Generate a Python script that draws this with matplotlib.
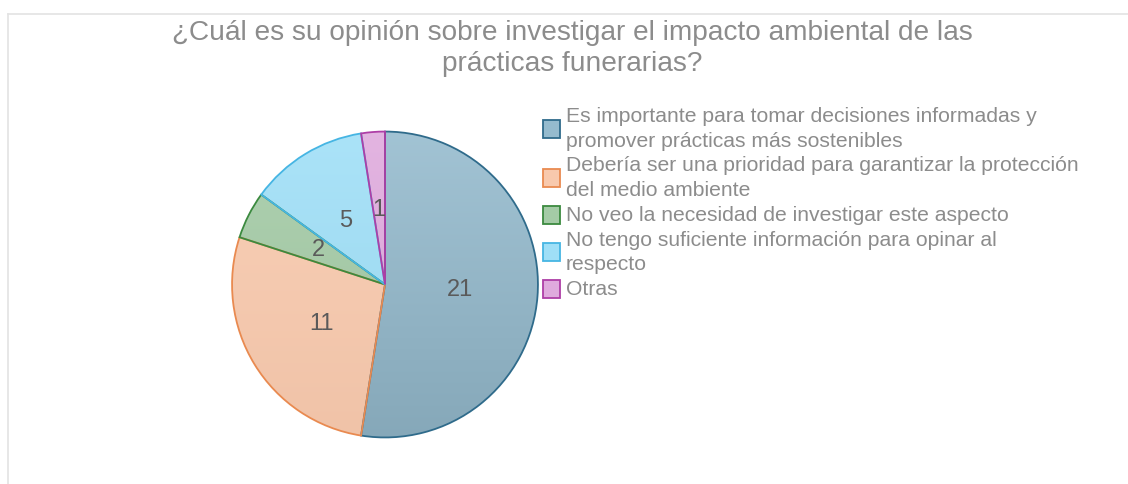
import numpy as np
import matplotlib
matplotlib.use("Agg")
from matplotlib import pyplot as plt
from matplotlib.colors import LinearSegmentedColormap, to_rgb
from matplotlib.patches import Rectangle
from matplotlib.lines import Line2D

plt.rcParams["font.family"] = ["Liberation Sans", "DejaVu Sans"]

title = "¿Cuál es su opinión sobre investigar el impacto ambiental de las\nprácticas funerarias?"
labels = [
    "Es importante para tomar decisiones informadas y\npromover prácticas más sostenibles",
    "Debería ser una prioridad para garantizar la protección\ndel medio ambiente",
    "No veo la necesidad de investigar este aspecto",
    "No tengo suficiente información para opinar al\nrespecto",
    "Otras",
]
values = [21, 11, 2, 5, 1]
fills = ["#95bbce", "#f8c9ad", "#a4cba6", "#9fdff7", "#dfaadd"]
edges = ["#2f6b8b", "#e98a50", "#3b8a3f", "#46b5e3", "#ae3ea6"]
shade = [0.90, 0.97, 0.95, 0.96, 0.96]

W, H = 1128, 484
fig = plt.figure(figsize=(W / 100, H / 100), dpi=100)
fig.patch.set_facecolor("white")

# thin frame lines (top and left)
fig.add_artist(Line2D([8 / W, 1], [1 - 14 / H, 1 - 14 / H], color="#e3e3e3", lw=1.2))
fig.add_artist(Line2D([8 / W, 8 / W], [0, 1 - 14 / H], color="#e3e3e3", lw=1.2))

fig.text(572 / W, 1 - 48.5 / H, title, ha="center", va="center", fontsize=20.2,
         color="#8c8c8c", linespacing=1.22)

cx, cy, r = 385, 284.5, 156
ax = fig.add_axes([(cx - r) / W, 1 - (cy + r) / H, 2 * r / W, 2 * r / H])
wedges, texts = ax.pie(values, startangle=90, counterclock=False, radius=1,
                       labels=[str(v) for v in values], labeldistance=0.49,
                       wedgeprops=dict(linewidth=1.3),
                       textprops=dict(fontsize=17, color="#5a5a5a", ha="center", va="center"))
ax.set_xlim(-1.02, 1.02)
ax.set_ylim(-1.02, 1.02)
ax.set_aspect("equal")
ax.axis("off")

grad = np.linspace(0, 1, 256).reshape(-1, 1)
for w, fc, ec, s in zip(wedges, fills, edges, shade):
    c = np.array(to_rgb(fc))
    top = c + (1 - c) * 0.12
    bot = c * s
    cmap = LinearSegmentedColormap.from_list("g", [top, bot])
    w.set_facecolor("none")
    w.set_edgecolor(ec)
    w.set_zorder(3)
    im = ax.imshow(grad, extent=[-1, 1, -1, 1], cmap=cmap, aspect="auto", zorder=2, origin="upper")
    im.set_clip_path(w)
for t in texts:
    t.set_zorder(4)

# legend
line_h = 24.7
y0 = 116.5
k = 0
for lab, fc, ec in zip(labels, fills, edges):
    n = lab.count("\n") + 1
    yc = y0 + line_h * (k + (n - 1) / 2)
    fig.add_artist(Rectangle((543 / W, 1 - (yc + 9) / H), 17 / W, 18 / H,
                             facecolor=fc, edgecolor=ec, lw=1.3))
    for j, line in enumerate(lab.split("\n")):
        fig.text(566 / W, 1 - (y0 + line_h * (k + j)) / H, line, ha="left", va="center",
                 fontsize=15.2, color="#8c8c8c")
    k += n

fig.savefig("out.png", dpi=100, facecolor="white")
